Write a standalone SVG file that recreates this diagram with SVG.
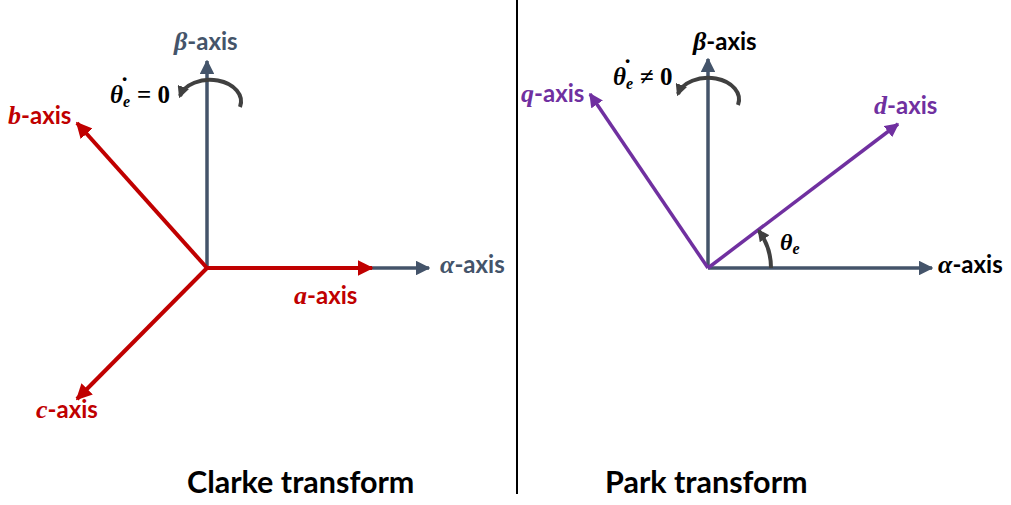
<svg xmlns="http://www.w3.org/2000/svg" width="1011" height="505" viewBox="0 0 1011 505">
<style>
.lbl{font-family:Lato,"Open Sans",sans-serif;font-weight:bold;font-size:24px}
.math{font-family:"Liberation Serif","DejaVu Serif",serif;font-weight:bold;font-style:italic}
.title{font-family:Lato,"Open Sans",sans-serif;font-weight:bold;font-size:30.5px;fill:#000}
.slate{stroke:#44546A;stroke-width:3.5;fill:none}
.red{stroke:#C00000;stroke-width:4;fill:none}
.purple{stroke:#7030A0;stroke-width:3.5;fill:none}
.rot{stroke:#404040;stroke-width:4;fill:none}
</style>
<defs>
<marker id="mS" viewBox="0 0 10 10" refX="9" refY="5" markerWidth="4.2" markerHeight="4.2" orient="auto" markerUnits="strokeWidth"><path d="M0,0 L10,5 L0,10 Z" fill="#44546A"/></marker>
<marker id="mR" viewBox="0 0 10 10" refX="9" refY="5" markerWidth="4" markerHeight="4" orient="auto" markerUnits="strokeWidth"><path d="M0,0 L10,5 L0,10 Z" fill="#C00000"/></marker>
<marker id="mP" viewBox="0 0 10 10" refX="9" refY="5" markerWidth="4" markerHeight="4" orient="auto" markerUnits="strokeWidth"><path d="M0,0 L10,5 L0,10 Z" fill="#7030A0"/></marker>
<marker id="mG" viewBox="0 0 10 10" refX="8" refY="5" markerWidth="3" markerHeight="3" orient="auto" markerUnits="strokeWidth"><path d="M0,0 L10,5 L0,10 Z" fill="#404040"/></marker>
</defs>
<line x1="517" y1="0" x2="517" y2="494" stroke="#000" stroke-width="2"/>
<g id="connectors">
<line class="slate" x1="207" y1="268" x2="207" y2="61" marker-end="url(#mS)"/>
<line class="slate" x1="207" y1="268" x2="429" y2="268" marker-end="url(#mS)"/>
<line class="red" x1="207" y1="268" x2="372" y2="268" marker-end="url(#mR)"/>
<line class="red" x1="207" y1="268" x2="77" y2="123" marker-end="url(#mR)"/>
<line class="red" x1="207" y1="268" x2="77" y2="399" marker-end="url(#mR)"/>
<path class="rot" d="M240,107 A30,21 0 0 0 180,96" marker-end="url(#mG)"/>
<line class="slate" x1="708" y1="268" x2="708" y2="59" marker-end="url(#mS)"/>
<line class="slate" x1="708" y1="268" x2="932" y2="268" marker-end="url(#mS)"/>
<line class="purple" x1="708" y1="268" x2="590" y2="94" marker-end="url(#mP)"/>
<line class="purple" x1="708" y1="268" x2="898" y2="124" marker-end="url(#mP)"/>
<path class="rot" d="M738,105 A30,21 0 0 0 678,94" marker-end="url(#mG)"/>
<path class="rot" d="M771,268 A63,63 0 0 0 759,231" marker-end="url(#mG)"/>
</g>
<g id="clarke">
<text class="lbl" x="174" y="50" fill="#44546A"><tspan class="math" font-size="26">β</tspan>-axis</text>
<text class="lbl" x="440" y="273" fill="#44546A"><tspan class="math" font-size="26">α</tspan>-axis</text>
<text class="lbl" x="294" y="304" fill="#C00000"><tspan class="math" font-size="26">a</tspan>-axis</text>
<text class="lbl" x="8" y="124" fill="#C00000"><tspan class="math" font-size="26">b</tspan>-axis</text>
<text class="lbl" x="36" y="418" fill="#C00000"><tspan class="math" font-size="26">c</tspan>-axis</text>
<text class="math" x="110" y="103" font-size="25" fill="#000">θ<tspan x="119" y="95">˙</tspan><tspan x="123" y="107" font-size="16">e</tspan><tspan x="137" y="103" font-style="normal">= 0</tspan></text>
<text class="title" x="187" y="493">Clarke transform</text>
</g>
<g id="park">
<text class="lbl" x="693" y="50" fill="#000"><tspan class="math" font-size="26">β</tspan>-axis</text>
<text class="lbl" x="938" y="273" fill="#000"><tspan class="math" font-size="26">α</tspan>-axis</text>
<text class="lbl" x="521" y="102" fill="#7030A0"><tspan class="math" font-size="26">q</tspan>-axis</text>
<text class="lbl" x="874" y="114" fill="#7030A0"><tspan class="math" font-size="26">d</tspan>-axis</text>
<text class="math" x="613" y="85" font-size="25" fill="#000">θ<tspan x="622" y="77">˙</tspan><tspan x="626" y="89" font-size="16">e</tspan><tspan x="640" y="85" font-style="normal">≠ 0</tspan></text>
<text class="math" x="780" y="250" font-size="24" fill="#000">θ<tspan font-size="16" dy="4">e</tspan></text>
<text class="title" x="605" y="493">Park transform</text>
</g>
</svg>
